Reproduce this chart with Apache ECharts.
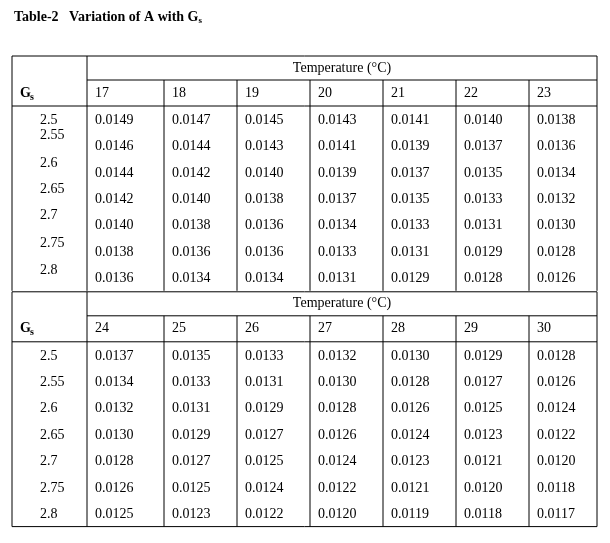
<!DOCTYPE html>
<html><head><meta charset="utf-8">
<script src="https://cdn.jsdelivr.net/npm/echarts@6/dist/echarts.min.js"></script>
<style>html,body{margin:0;background:#fff}#c{width:610px;height:543px}</style>
</head><body><div id="c"></div>
<script>
// table data
const gsValues = ['2.5', '2.55', '2.6', '2.65', '2.7', '2.75', '2.8'];
const temps1 = [17, 18, 19, 20, 21, 22, 23];
const temps2 = [24, 25, 26, 27, 28, 29, 30];
const block1 = [
  ['0.0149','0.0147','0.0145','0.0143','0.0141','0.0140','0.0138'],
  ['0.0146','0.0144','0.0143','0.0141','0.0139','0.0137','0.0136'],
  ['0.0144','0.0142','0.0140','0.0139','0.0137','0.0135','0.0134'],
  ['0.0142','0.0140','0.0138','0.0137','0.0135','0.0133','0.0132'],
  ['0.0140','0.0138','0.0136','0.0134','0.0133','0.0131','0.0130'],
  ['0.0138','0.0136','0.0136','0.0133','0.0131','0.0129','0.0128'],
  ['0.0136','0.0134','0.0134','0.0131','0.0129','0.0128','0.0126']
];
const block2 = [
  ['0.0137','0.0135','0.0133','0.0132','0.0130','0.0129','0.0128'],
  ['0.0134','0.0133','0.0131','0.0130','0.0128','0.0127','0.0126'],
  ['0.0132','0.0131','0.0129','0.0128','0.0126','0.0125','0.0124'],
  ['0.0130','0.0129','0.0127','0.0126','0.0124','0.0123','0.0122'],
  ['0.0128','0.0127','0.0125','0.0124','0.0123','0.0121','0.0120'],
  ['0.0126','0.0125','0.0124','0.0122','0.0121','0.0120','0.0118'],
  ['0.0125','0.0123','0.0122','0.0120','0.0119','0.0118','0.0117']
];
const gsOffsets1 = [0, -11, -10, -10, -10, -9, -8];
const gsOffsets2 = [0, 0, 0, 0, 0, 0, 0];

const FONT = '"Liberation Serif", "DejaVu Serif", serif';
const left = 12, right = 597, gsCol = 87;
const colX = [87, 164, 237, 310, 383, 456, 529, 597];
const els = [];
const line = (x1, y1, x2, y2) => els.push({type:'line', shape:{x1,y1,x2,y2}, style:{stroke:'#000', lineWidth:1}});
const text = (x, y, t, opt) => els.push({type:'text', x, y, style:Object.assign({text:t, fill:'#000', font:'14px ' + FONT, verticalAlign:'middle'}, opt || {})});

els.push({type:'text', x:14, y:17, style:{
  text:'{b|Table-2   Variation of A with G}{s|s}', verticalAlign:'middle',
  rich:{b:{fill:'#000', font:'bold 14px ' + FONT}, s:{fill:'#000', font:'bold 9px ' + FONT, padding:[8,0,0,0]}}
}});

function drawBlock(top, temps, vals, rowH, offs) {
  const headBot = top + 24, tempBot = top + 50, bot = tempBot + vals.length * rowH;
  line(left, top, right, top);
  line(gsCol, headBot, right, headBot);
  line(left, tempBot, right, tempBot);
  line(left, top, left, bot);
  colX.forEach((x, i) => line(x, i === 0 || i === colX.length - 1 ? top : headBot, x, bot));
  text((gsCol + right) / 2, top + 12, 'Temperature (\u00b0C)', {align:'center'});
  text(20, top + 37, 'G', {font:'bold 14px ' + FONT});
  text(30, top + 41, 's', {font:'bold 10px ' + FONT});
  temps.forEach((t, i) => text(colX[i] + 8, top + 37, String(t)));
  vals.forEach((row, r) => {
    const cy = tempBot + rowH * (r + 0.5) + 1;
    text(40, cy + offs[r], gsValues[r]);
    row.forEach((v, c) => text(colX[c] + 8, cy, v));
  });
  return bot;
}
const b1 = drawBlock(56, temps1, block1, 26.4, gsOffsets1);
const b2 = drawBlock(b1 + 1, temps2, block2, 26.4, gsOffsets2);
line(left, b2, right, b2);

const chart = echarts.init(document.getElementById('c'));
chart.setOption({animation:false, graphic:{elements:els}});
</script></body></html>
